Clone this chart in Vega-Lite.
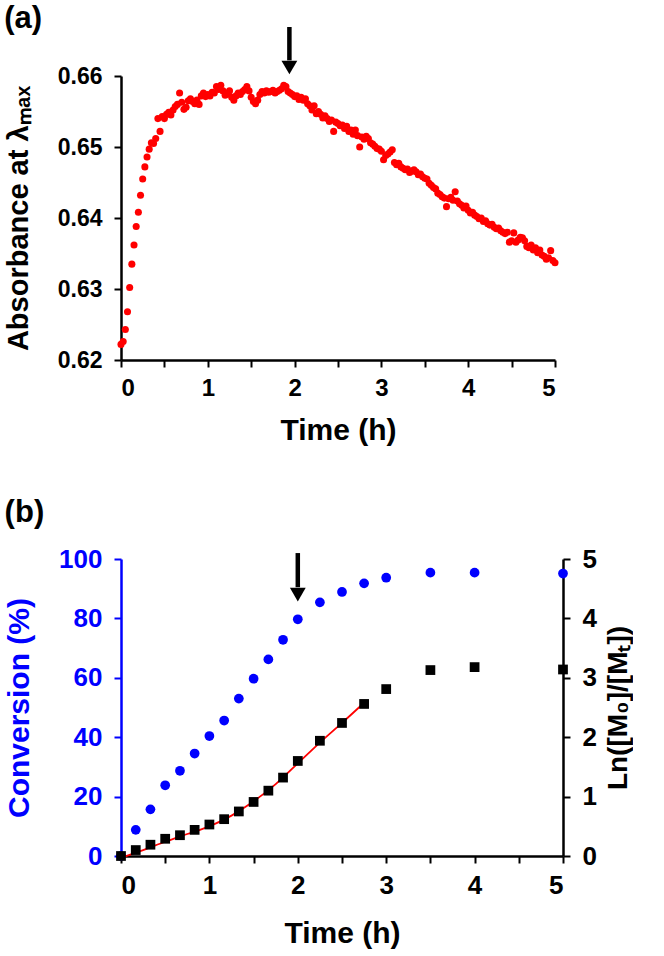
{
  "$schema": "https://vega.github.io/schema/vega-lite/v6.json",
  "background": "white",
  "padding": {"left": 4, "top": 2, "right": 0, "bottom": 4},
  "spacing": 52,
  "config": {
    "font": "Liberation Sans",
    "view": {"stroke": null},
    "axis": {
      "grid": false,
      "domainColor": "black",
      "domainWidth": 2.5,
      "tickColor": "black",
      "tickWidth": 2,
      "tickSize": 7,
      "labelColor": "black",
      "labelFont": "Liberation Sans",
      "labelFontWeight": "bold",
      "titleFont": "Liberation Sans",
      "titleFontWeight": "bold",
      "titleColor": "black"
    }
  },
  "datasets": {
    "abs": [
      {"t": 0.000, "A": 0.6222}, {"t": 0.025, "A": 0.6226}, {"t": 0.050, "A": 0.6243}, {"t": 0.075, "A": 0.6268},
      {"t": 0.100, "A": 0.6302}, {"t": 0.125, "A": 0.6335}, {"t": 0.150, "A": 0.6362}, {"t": 0.175, "A": 0.6388},
      {"t": 0.200, "A": 0.6408}, {"t": 0.225, "A": 0.6432}, {"t": 0.250, "A": 0.6455}, {"t": 0.275, "A": 0.6472},
      {"t": 0.300, "A": 0.6486}, {"t": 0.325, "A": 0.6497}, {"t": 0.350, "A": 0.6506}, {"t": 0.375, "A": 0.6505},
      {"t": 0.400, "A": 0.6512}, {"t": 0.425, "A": 0.6540}, {"t": 0.450, "A": 0.6522}, {"t": 0.475, "A": 0.6543},
      {"t": 0.500, "A": 0.6540}, {"t": 0.525, "A": 0.6546}, {"t": 0.550, "A": 0.6549}, {"t": 0.575, "A": 0.6545},
      {"t": 0.600, "A": 0.6552}, {"t": 0.625, "A": 0.6557}, {"t": 0.650, "A": 0.6560}, {"t": 0.675, "A": 0.6576},
      {"t": 0.700, "A": 0.6563}, {"t": 0.725, "A": 0.6553}, {"t": 0.750, "A": 0.6556}, {"t": 0.775, "A": 0.6565},
      {"t": 0.800, "A": 0.6568}, {"t": 0.825, "A": 0.6564}, {"t": 0.850, "A": 0.6561}, {"t": 0.875, "A": 0.6566},
      {"t": 0.900, "A": 0.6560}, {"t": 0.925, "A": 0.6572}, {"t": 0.950, "A": 0.6576}, {"t": 0.975, "A": 0.6571},
      {"t": 1.000, "A": 0.6574}, {"t": 1.025, "A": 0.6572}, {"t": 1.050, "A": 0.6577}, {"t": 1.075, "A": 0.6576},
      {"t": 1.100, "A": 0.6585}, {"t": 1.125, "A": 0.6581}, {"t": 1.150, "A": 0.6587}, {"t": 1.175, "A": 0.6579},
      {"t": 1.200, "A": 0.6573}, {"t": 1.225, "A": 0.6575}, {"t": 1.250, "A": 0.6579}, {"t": 1.275, "A": 0.6570},
      {"t": 1.300, "A": 0.6566}, {"t": 1.325, "A": 0.6572}, {"t": 1.350, "A": 0.6576}, {"t": 1.375, "A": 0.6574},
      {"t": 1.400, "A": 0.6578}, {"t": 1.425, "A": 0.6581}, {"t": 1.450, "A": 0.6585}, {"t": 1.475, "A": 0.6579},
      {"t": 1.500, "A": 0.6570}, {"t": 1.525, "A": 0.6564}, {"t": 1.550, "A": 0.6561}, {"t": 1.575, "A": 0.6566},
      {"t": 1.600, "A": 0.6574}, {"t": 1.625, "A": 0.6578}, {"t": 1.650, "A": 0.6576}, {"t": 1.675, "A": 0.6579},
      {"t": 1.700, "A": 0.6577}, {"t": 1.725, "A": 0.6578}, {"t": 1.750, "A": 0.6580}, {"t": 1.775, "A": 0.6576},
      {"t": 1.800, "A": 0.6578}, {"t": 1.825, "A": 0.6580}, {"t": 1.850, "A": 0.6582}, {"t": 1.875, "A": 0.6587},
      {"t": 1.900, "A": 0.6585}, {"t": 1.925, "A": 0.6578}, {"t": 1.950, "A": 0.6576}, {"t": 1.975, "A": 0.6574},
      {"t": 2.000, "A": 0.6571}, {"t": 2.025, "A": 0.6572}, {"t": 2.050, "A": 0.6567}, {"t": 2.075, "A": 0.6570},
      {"t": 2.100, "A": 0.6566}, {"t": 2.125, "A": 0.6568}, {"t": 2.150, "A": 0.6561}, {"t": 2.175, "A": 0.6558},
      {"t": 2.200, "A": 0.6552}, {"t": 2.225, "A": 0.6558}, {"t": 2.250, "A": 0.6547}, {"t": 2.275, "A": 0.6550},
      {"t": 2.300, "A": 0.6546}, {"t": 2.325, "A": 0.6541}, {"t": 2.350, "A": 0.6544}, {"t": 2.375, "A": 0.6540},
      {"t": 2.400, "A": 0.6536}, {"t": 2.425, "A": 0.6538}, {"t": 2.450, "A": 0.6522}, {"t": 2.475, "A": 0.6535},
      {"t": 2.500, "A": 0.6533}, {"t": 2.525, "A": 0.6530}, {"t": 2.550, "A": 0.6531}, {"t": 2.575, "A": 0.6526},
      {"t": 2.600, "A": 0.6529}, {"t": 2.625, "A": 0.6522}, {"t": 2.650, "A": 0.6524}, {"t": 2.675, "A": 0.6518},
      {"t": 2.700, "A": 0.6524}, {"t": 2.725, "A": 0.6516}, {"t": 2.750, "A": 0.6500}, {"t": 2.775, "A": 0.6514},
      {"t": 2.800, "A": 0.6511}, {"t": 2.825, "A": 0.6515}, {"t": 2.850, "A": 0.6512}, {"t": 2.875, "A": 0.6506},
      {"t": 2.900, "A": 0.6504}, {"t": 2.925, "A": 0.6501}, {"t": 2.950, "A": 0.6498}, {"t": 2.975, "A": 0.6497},
      {"t": 3.000, "A": 0.6494}, {"t": 3.025, "A": 0.6482}, {"t": 3.050, "A": 0.6488}, {"t": 3.075, "A": 0.6490},
      {"t": 3.100, "A": 0.6493}, {"t": 3.125, "A": 0.6496}, {"t": 3.150, "A": 0.6478}, {"t": 3.175, "A": 0.6475},
      {"t": 3.200, "A": 0.6477}, {"t": 3.225, "A": 0.6472}, {"t": 3.250, "A": 0.6470}, {"t": 3.275, "A": 0.6468},
      {"t": 3.300, "A": 0.6469}, {"t": 3.325, "A": 0.6464}, {"t": 3.350, "A": 0.6466}, {"t": 3.375, "A": 0.6468},
      {"t": 3.400, "A": 0.6465}, {"t": 3.425, "A": 0.6461}, {"t": 3.450, "A": 0.6462}, {"t": 3.475, "A": 0.6458},
      {"t": 3.500, "A": 0.6456}, {"t": 3.525, "A": 0.6455}, {"t": 3.550, "A": 0.6449}, {"t": 3.575, "A": 0.6446},
      {"t": 3.600, "A": 0.6443}, {"t": 3.625, "A": 0.6441}, {"t": 3.650, "A": 0.6435}, {"t": 3.675, "A": 0.6433},
      {"t": 3.700, "A": 0.6430}, {"t": 3.725, "A": 0.6428}, {"t": 3.750, "A": 0.6416}, {"t": 3.775, "A": 0.6427},
      {"t": 3.800, "A": 0.6429}, {"t": 3.825, "A": 0.6425}, {"t": 3.850, "A": 0.6437}, {"t": 3.875, "A": 0.6424},
      {"t": 3.900, "A": 0.6420}, {"t": 3.925, "A": 0.6418}, {"t": 3.950, "A": 0.6414}, {"t": 3.975, "A": 0.6417},
      {"t": 4.000, "A": 0.6411}, {"t": 4.025, "A": 0.6407}, {"t": 4.050, "A": 0.6408}, {"t": 4.075, "A": 0.6404},
      {"t": 4.100, "A": 0.6402}, {"t": 4.125, "A": 0.6399}, {"t": 4.150, "A": 0.6400}, {"t": 4.175, "A": 0.6395},
      {"t": 4.200, "A": 0.6396}, {"t": 4.225, "A": 0.6392}, {"t": 4.250, "A": 0.6390}, {"t": 4.275, "A": 0.6391},
      {"t": 4.300, "A": 0.6387}, {"t": 4.325, "A": 0.6385}, {"t": 4.350, "A": 0.6386}, {"t": 4.375, "A": 0.6382},
      {"t": 4.400, "A": 0.6380}, {"t": 4.425, "A": 0.6378}, {"t": 4.450, "A": 0.6380}, {"t": 4.475, "A": 0.6366},
      {"t": 4.500, "A": 0.6368}, {"t": 4.525, "A": 0.6379}, {"t": 4.550, "A": 0.6366}, {"t": 4.575, "A": 0.6369},
      {"t": 4.600, "A": 0.6373}, {"t": 4.625, "A": 0.6372}, {"t": 4.650, "A": 0.6368}, {"t": 4.675, "A": 0.6360},
      {"t": 4.700, "A": 0.6358}, {"t": 4.725, "A": 0.6362}, {"t": 4.750, "A": 0.6355}, {"t": 4.775, "A": 0.6358},
      {"t": 4.800, "A": 0.6351}, {"t": 4.825, "A": 0.6355}, {"t": 4.850, "A": 0.6348}, {"t": 4.875, "A": 0.6346},
      {"t": 4.900, "A": 0.6342}, {"t": 4.925, "A": 0.6344}, {"t": 4.950, "A": 0.6354}, {"t": 4.975, "A": 0.6340},
      {"t": 5.000, "A": 0.6337}
    ],
    "conv": [
      {"t": 0, "c": 0}, {"t": 0.167, "c": 8.8}, {"t": 0.333, "c": 15.7}, {"t": 0.5, "c": 23.8},
      {"t": 0.667, "c": 28.7}, {"t": 0.833, "c": 34.5}, {"t": 1.0, "c": 40.4}, {"t": 1.167, "c": 45.6},
      {"t": 1.333, "c": 53.0}, {"t": 1.5, "c": 59.7}, {"t": 1.667, "c": 66.2}, {"t": 1.833, "c": 72.8},
      {"t": 2.0, "c": 79.7}, {"t": 2.25, "c": 85.4}, {"t": 2.5, "c": 88.9}, {"t": 2.75, "c": 91.8},
      {"t": 3.0, "c": 93.7}, {"t": 3.5, "c": 95.4}, {"t": 4.0, "c": 95.4}, {"t": 5.0, "c": 95.1}
    ],
    "ln": [
      {"t": 0, "L": 0}, {"t": 0.167, "L": 0.10}, {"t": 0.333, "L": 0.19}, {"t": 0.5, "L": 0.29},
      {"t": 0.667, "L": 0.35}, {"t": 0.833, "L": 0.44}, {"t": 1.0, "L": 0.53}, {"t": 1.167, "L": 0.62},
      {"t": 1.333, "L": 0.75}, {"t": 1.5, "L": 0.91}, {"t": 1.667, "L": 1.10}, {"t": 1.833, "L": 1.32},
      {"t": 2.0, "L": 1.60}, {"t": 2.25, "L": 1.94}, {"t": 2.5, "L": 2.24}, {"t": 2.75, "L": 2.56},
      {"t": 3.0, "L": 2.81}, {"t": 3.5, "L": 3.13}, {"t": 4.0, "L": 3.18}, {"t": 5.0, "L": 3.14}
    ],
    "fit": [
      {"t": 0, "L": -0.03}, {"t": 0.25, "L": 0.10}, {"t": 0.5, "L": 0.24}, {"t": 0.75, "L": 0.37},
      {"t": 1.0, "L": 0.50}, {"t": 1.25, "L": 0.68}, {"t": 1.5, "L": 0.92}, {"t": 1.75, "L": 1.21},
      {"t": 2.0, "L": 1.56}, {"t": 2.25, "L": 1.91}, {"t": 2.5, "L": 2.24}, {"t": 2.75, "L": 2.58}
    ],
    "arrowA": [{"t": 1.94, "top": 0.6669, "bot": 0.6622, "head": 0.6612}],
    "arrowB": [{"t": 2.0, "top": 102.0, "bot": 90.5, "head": 88.0}]
  },
  "vconcat": [
    {
      "title": {"text": "(a)", "anchor": "start", "frame": "bounds", "fontSize": 31, "fontWeight": "bold", "font": "Liberation Sans", "offset": -10},
      "width": 434,
      "height": 284,
      "layer": [
        {
          "data": {"name": "abs"},
          "mark": {"type": "circle", "size": 50, "color": "#FF0000", "opacity": 1},
          "encoding": {
            "x": {"field": "t", "type": "quantitative", "scale": {"domain": [0, 5], "nice": false},
              "axis": {"title": "Time (h)", "values": [0, 0.5, 1, 1.5, 2, 2.5, 3, 3.5, 4, 4.5, 5],
                "labelExpr": "datum.value % 1 == 0 ? format(datum.value, 'd') : ''", "labelFontSize": 24, "labelPadding": 9,
                "titleFontSize": 30, "titlePadding": 15}},
            "y": {"field": "A", "type": "quantitative", "scale": {"domain": [0.62, 0.66], "nice": false, "zero": false},
              "axis": {"title": "Absorbance at λₘₐₓ", "values": [0.62, 0.625, 0.63, 0.635, 0.64, 0.645, 0.65, 0.655, 0.66],
                "labelExpr": "round(datum.value * 1000) % 10 == 0 ? format(datum.value, '.2f') : ''",
                "labelFontSize": 23, "labelPadding": 12, "titleFontSize": 29, "titlePadding": 24}}
          }
        },
        {
          "data": {"name": "arrowA"},
          "mark": {"type": "rule", "strokeWidth": 4.5, "color": "black"},
          "encoding": {
            "x": {"field": "t", "type": "quantitative", "scale": {"domain": [0, 5], "nice": false}},
            "y": {"field": "top", "type": "quantitative", "scale": {"domain": [0.62, 0.66], "nice": false, "zero": false}},
            "y2": {"field": "bot"}
          }
        },
        {
          "data": {"name": "arrowA"},
          "mark": {"type": "point", "shape": "triangle-down", "filled": true, "size": 250, "color": "black", "opacity": 1},
          "encoding": {
            "x": {"field": "t", "type": "quantitative", "scale": {"domain": [0, 5], "nice": false}},
            "y": {"field": "head", "type": "quantitative", "scale": {"domain": [0.62, 0.66], "nice": false, "zero": false}}
          }
        }
      ]
    },
    {
      "title": {"text": "(b)", "anchor": "start", "frame": "bounds", "fontSize": 31, "fontWeight": "bold", "font": "Liberation Sans", "offset": 17},
      "width": 442,
      "height": 297,
      "layer": [
        {
          "layer": [
            {
              "data": {"name": "conv"},
              "mark": {"type": "circle", "size": 95, "color": "#0000FF", "opacity": 1},
              "encoding": {
                "x": {"field": "t", "type": "quantitative", "scale": {"domain": [0, 5], "nice": false},
                  "axis": {"title": "Time (h)", "values": [0, 0.5, 1, 1.5, 2, 2.5, 3, 3.5, 4, 4.5, 5],
                    "labelExpr": "datum.value % 1 == 0 ? format(datum.value, 'd') : ''", "labelFontSize": 26, "labelPadding": 9,
                    "titleFontSize": 30, "titlePadding": 20}},
                "y": {"field": "c", "type": "quantitative", "scale": {"domain": [0, 100], "nice": false},
                  "axis": {"orient": "left", "title": "Conversion (%)", "values": [0, 10, 20, 30, 40, 50, 60, 70, 80, 90, 100],
                    "labelExpr": "datum.value % 20 == 0 ? datum.label : ''",
                    "domainColor": "#0000FF", "tickColor": "#0000FF", "labelColor": "#0000FF", "titleColor": "#0000FF",
                    "labelFontSize": 26, "labelPadding": 12, "titleFontSize": 30, "titlePadding": 24}}
              }
            },
            {
              "data": {"name": "arrowB"},
              "mark": {"type": "rule", "strokeWidth": 4.5, "color": "black"},
              "encoding": {
                "x": {"field": "t", "type": "quantitative"},
                "y": {"field": "top", "type": "quantitative"},
                "y2": {"field": "bot"}
              }
            },
            {
              "data": {"name": "arrowB"},
              "mark": {"type": "point", "shape": "triangle-down", "filled": true, "size": 250, "color": "black", "opacity": 1},
              "encoding": {
                "x": {"field": "t", "type": "quantitative"},
                "y": {"field": "head", "type": "quantitative"}
              }
            }
          ]
        },
        {
          "layer": [
            {
              "data": {"name": "fit"},
              "mark": {"type": "line", "color": "#FF0000", "strokeWidth": 1.8, "interpolate": "monotone"},
              "encoding": {
                "x": {"field": "t", "type": "quantitative"},
                "y": {"field": "L", "type": "quantitative", "scale": {"domain": [0, 5], "nice": false, "zero": false},
                  "axis": {"orient": "right", "title": "Ln([M₀]/[Mₜ])", "titleAngle": 270, "values": [0, 0.5, 1, 1.5, 2, 2.5, 3, 3.5, 4, 4.5, 5],
                    "labelExpr": "datum.value % 1 == 0 ? format(datum.value, 'd') : ''",
                    "labelFontSize": 26, "labelPadding": 12, "titleFontSize": 28, "titlePadding": 36}}
              }
            },
            {
              "data": {"name": "ln"},
              "mark": {"type": "square", "size": 95, "color": "black", "opacity": 1},
              "encoding": {
                "x": {"field": "t", "type": "quantitative"},
                "y": {"field": "L", "type": "quantitative"}
              }
            }
          ]
        }
      ],
      "resolve": {"scale": {"y": "independent"}}
    }
  ]
}
